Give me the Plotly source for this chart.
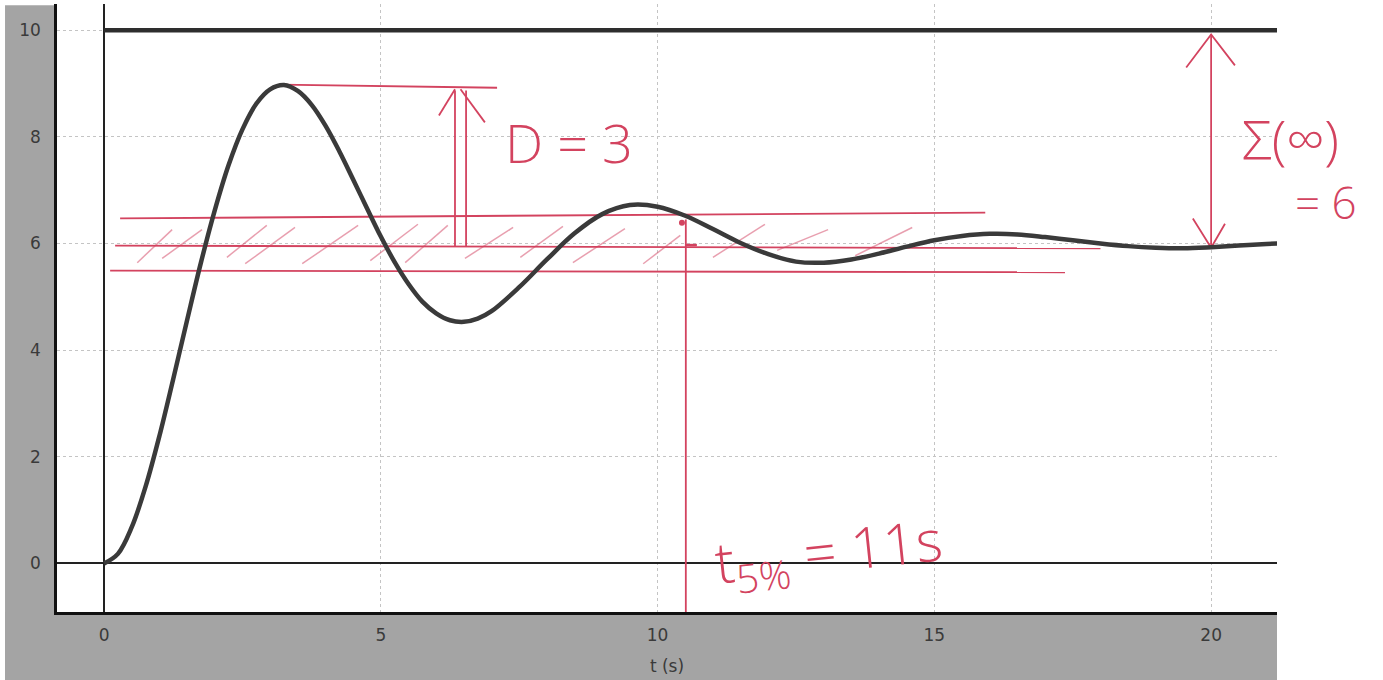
import plotly.graph_objects as go

# ---------------- data ----------------
t_s = [0, 0.25, 0.5, 0.75, 1, 1.25, 1.5, 1.75, 2, 2.25, 2.5, 2.75, 3, 3.25, 3.5,
       3.75, 4, 4.25, 4.5, 4.75, 5, 5.25, 5.5, 5.75, 6, 6.25, 6.5, 6.75, 7, 7.5,
       8, 8.5, 9, 9.5, 10, 10.5, 11, 11.5, 12, 12.5, 13, 13.5, 14, 14.5, 15,
       15.5, 16, 16.5, 17, 17.5, 18, 18.5, 19, 19.5, 20, 20.5, 21, 21.2]
y_out = [0, 0.18, 0.68, 1.44, 2.39, 3.46, 4.56, 5.64, 6.62, 7.47, 8.14, 8.62,
         8.89, 8.97, 8.86, 8.60, 8.21, 7.73, 7.20, 6.66, 6.13, 5.65, 5.24, 4.91,
         4.69, 4.56, 4.53, 4.59, 4.73, 5.18, 5.70, 6.19, 6.55, 6.72, 6.69, 6.52,
         6.27, 6.01, 5.80, 5.66, 5.64, 5.70, 5.81, 5.94, 6.06, 6.14, 6.18, 6.17,
         6.12, 6.06, 6.00, 5.95, 5.92, 5.91, 5.93, 5.96, 5.99, 6.00]

step_t = [0, 21.2]
step_y = [10, 10]

x_ticks = [0, 5, 10, 15, 20]
y_ticks = [0, 2, 4, 6, 8, 10]

# hand-drawn annotation strokes (t, y)
peak_line_t, peak_line_y = [3.18, 7.10], [8.98, 8.92]
band_hi_t, band_hi_y = [0.29, 15.92], [6.47, 6.58]
band_mid_t, band_mid_y = [0.20, 18.0], [5.96, 5.91]
band_lo_t, band_lo_y = [0.11, 17.36], [5.49, 5.46]
hatch_t0 = [0.60, 1.05, 2.22, 2.55, 3.58, 4.81, 5.44, 6.52, 7.52, 8.47, 9.74, 11.00, 12.16, 13.57]
hatch_t1 = [1.23, 1.77, 2.94, 3.45, 4.59, 5.67, 6.21, 7.39, 8.29, 9.41, 10.41, 11.94, 13.08, 14.60]
hatch_y0 = [5.64, 5.72, 5.74, 5.62, 5.62, 5.68, 5.64, 5.72, 5.74, 5.64, 5.62, 5.74, 5.87, 5.77]
hatch_y1 = [6.26, 6.26, 6.34, 6.30, 6.34, 6.36, 6.34, 6.30, 6.32, 6.28, 6.15, 6.36, 6.26, 6.30]
d_shaft_t = [6.34, 6.54]
d_shaft_y = [5.95, 8.87]
d_head_t, d_head_y = [6.05, 6.34, 6.44, 6.88], [8.40, 8.89, 8.89, 8.27]
settle_t = 10.51
settle_y = [6.45, -0.91]
sig_t = 20.0
sig_y = [5.92, 9.92]
sig_head_top_t, sig_head_top_y = [19.55, 20.0, 20.43], [9.30, 9.92, 9.34]
sig_head_bot_t, sig_head_bot_y = [19.67, 20.0, 20.25], [6.47, 5.92, 6.37]

RED = "#d3435f"
RED_LIGHT = "rgba(214,80,110,0.55)"
PEN = "Open Sans"

fig = go.Figure()

def pen(xs, ys, color=RED, width=1.8):
    fig.add_trace(go.Scatter(x=xs, y=ys, mode="lines", hoverinfo="skip",
                             line=dict(color=color, width=width), showlegend=False))

# hatch strokes
hx, hy = [], []
for a, b, c, d in zip(hatch_t0, hatch_t1, hatch_y0, hatch_y1):
    hx += [a, b, None]
    hy += [c, d, None]
pen(hx, hy, RED_LIGHT, 1.5)

pen(band_hi_t, band_hi_y)
pen(band_mid_t, band_mid_y)
pen(band_lo_t, band_lo_y)
pen(peak_line_t, peak_line_y)
for tt in d_shaft_t:
    pen([tt, tt], d_shaft_y)
pen(d_head_t[:2], d_head_y[:2])
pen(d_head_t[2:], d_head_y[2:])
pen([settle_t, settle_t], settle_y)
pen([settle_t, settle_t + 0.2], [5.97, 5.97], RED, 2.5)
fig.add_trace(go.Scatter(x=[settle_t - 0.07], y=[6.39], mode="markers", hoverinfo="skip",
                         marker=dict(color=RED, size=6), showlegend=False))
pen([sig_t, sig_t], sig_y)
pen(sig_head_top_t, sig_head_top_y)
pen(sig_head_bot_t, sig_head_bot_y)

# input step and response
fig.add_trace(go.Scatter(x=step_t, y=step_y, mode="lines", hoverinfo="skip",
                         line=dict(color="#2e2e2e", width=4.5), showlegend=False))
fig.add_trace(go.Scatter(x=t_s, y=y_out, mode="lines", line_shape="spline",
                         line=dict(color="#3a3a3a", width=4.5), showlegend=False))

# handwritten texts
fig.add_annotation(x=8.40, y=7.91, text="D = 3", showarrow=False,
                   font=dict(family=PEN, size=54, color=RED, weight=300))
fig.add_annotation(x=13.10, y=0.18, text="t<sub>5%</sub> = 11s", showarrow=False,
                   textangle=-6, font=dict(family=PEN, size=57, color=RED, weight=300))
fig.add_annotation(xref="paper", yref="paper", x=1.0110, y=0.7796, text="Σ(∞)",
                   xanchor="center", yanchor="middle",
                   showarrow=False, font=dict(family=PEN, size=54, color=RED, weight=300))
fig.add_annotation(xref="paper", yref="paper", x=1.0400, y=0.6740, text="= 6",
                   xanchor="center", yanchor="middle",
                   showarrow=False, font=dict(family=PEN, size=44, color=RED, weight=300))

# scanned gray surround
GRAY = "#a4a4a4"
fig.add_shape(type="rect", xref="paper", yref="paper", x0=-0.0426, x1=0, y0=-0.12, y1=0.998,
              fillcolor=GRAY, line_width=0, layer="below")
fig.add_shape(type="rect", xref="paper", yref="paper", x0=-0.0426, x1=1, y0=-0.12, y1=0,
              fillcolor=GRAY, line_width=0, layer="below")

tickfont = dict(family="DejaVu Sans", size=17, color="#3a3a3a")
fig.update_layout(
    width=1383, height=680,
    margin=dict(l=57, r=106, t=4, b=68, pad=0),
    paper_bgcolor="white", plot_bgcolor="white",
    xaxis=dict(range=[-0.85, 21.19], tickvals=x_ticks, showgrid=True,
               gridcolor="#c4c4c4", griddash="dot", gridwidth=1,
               zeroline=True, zerolinecolor="#222", zerolinewidth=2,
               showline=True, linecolor="#111", linewidth=2.5,
               tickfont=tickfont, ticks="", ticklabelstandoff=6,
               title=dict(text="t (s)", font=dict(family="DejaVu Sans", size=17, color="#3a3a3a"),
                          standoff=16)),
    yaxis=dict(range=[-0.91, 10.49], tickvals=y_ticks, showgrid=True,
               gridcolor="#c4c4c4", griddash="dot", gridwidth=1,
               zeroline=True, zerolinecolor="#222", zerolinewidth=2,
               showline=True, linecolor="#111", linewidth=2.5,
               tickfont=tickfont, ticks="", ticklabelstandoff=10),
)

fig.write_html("out.html", config={"displayModeBar": False},
               post_script="document.body.style.margin='0px';document.body.style.overflow='hidden';")
